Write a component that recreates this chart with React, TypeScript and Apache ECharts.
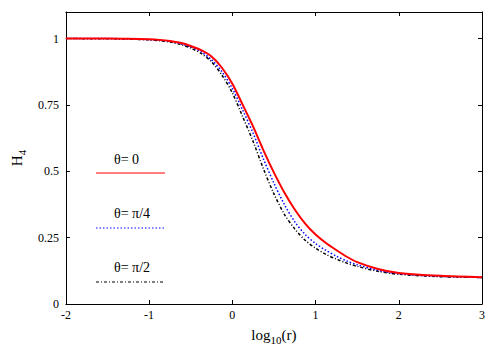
import React, { useEffect, useRef } from "react";
import * as echarts from "echarts";

const xs = [-2, -1.5, -1.25, -1, -0.875, -0.75, -0.625, -0.5, -0.375, -0.25, -0.125, 0, 0.125, 0.25, 0.375, 0.5, 0.625, 0.75, 0.875, 1, 1.125, 1.25, 1.375, 1.5, 1.75, 2, 2.5, 3];
const theta0 = [1.0, 1.0, 0.999, 0.997, 0.995, 0.991, 0.984, 0.972, 0.956, 0.932, 0.89, 0.83, 0.75, 0.668, 0.578, 0.495, 0.42, 0.356, 0.303, 0.262, 0.23, 0.203, 0.178, 0.158, 0.132, 0.117, 0.106, 0.101];
const thetaPi4 = [1.0, 1.0, 0.999, 0.996, 0.994, 0.989, 0.981, 0.968, 0.95, 0.92, 0.875, 0.812, 0.73, 0.643, 0.545, 0.455, 0.375, 0.31, 0.262, 0.228, 0.202, 0.18, 0.162, 0.148, 0.127, 0.114, 0.104, 0.1];
const thetaPi2 = [1.0, 0.999, 0.998, 0.995, 0.992, 0.987, 0.978, 0.964, 0.944, 0.912, 0.862, 0.795, 0.705, 0.612, 0.508, 0.415, 0.338, 0.283, 0.24, 0.21, 0.187, 0.169, 0.154, 0.142, 0.123, 0.112, 0.103, 0.1];
const legendLabels = ["θ= 0", "θ= π/4", "θ= π/2"];
const xTicks = [-2, -1, 0, 1, 2, 3];
const yTicks = [0, 0.25, 0.5, 0.75, 1];

const FONT = "'Liberation Serif', serif";

export default function App() {
  const ref = useRef<HTMLDivElement>(null);
  useEffect(() => {
    if (!ref.current) return;
    const chart = echarts.init(ref.current, null, { renderer: "svg" });
    const pairs = (ys: number[]) => xs.map((x, i) => [x, ys[i]]);
    const axisCommon = {
      axisLine: { show: true, onZero: false, lineStyle: { color: "#000", width: 1 } },
      axisTick: { show: true, inside: true, length: 4, lineStyle: { color: "#000" } },
      splitLine: { show: false },
    };
    const styles = [
      { color: "#ff0000", width: 2, type: "solid" as any },
      { color: "#0000ff", width: 1.5, type: [1.5, 2] as any },
      { color: "#000000", width: 1.5, type: [3, 2, 1, 2] as any },
    ];
    const legendY = [160, 214, 268];
    const lineY = [173, 228, 282];
    const graphics: any[] = [];
    legendLabels.forEach((t, i) => {
      graphics.push({
        type: "text",
        left: 114,
        top: legendY[i] - 8,
        style: { text: t, font: `14px ${FONT}`, fill: "#000" },
      });
      graphics.push({
        type: "line",
        shape: { x1: 96, y1: lineY[i], x2: 165, y2: lineY[i] },
        style: { stroke: styles[i].color, lineWidth: i === 0 ? 1 : 1.2, lineDash: i === 0 ? null : styles[i].type },
      });
    });
    const rich = {
      a: { fontSize: 15, fontFamily: FONT, color: "#000", lineHeight: 20, verticalAlign: "middle" },
      b: { fontSize: 11, fontFamily: FONT, color: "#000", lineHeight: 20, verticalAlign: "bottom", padding: [8, 0, 0, 0] },
    };
    chart.setOption({
      animation: false,
      backgroundColor: "#fff",
      textStyle: { fontFamily: FONT },
      grid: { left: 53, right: 18, top: 12, bottom: 41 },
      xAxis: [
        {
          type: "value",
          min: xTicks[0],
          max: xTicks[xTicks.length - 1],
          interval: 1,
          position: "bottom",
          ...axisCommon,
          axisLabel: { color: "#000", fontSize: 12, fontFamily: FONT, margin: 5 },
          name: "{a|log}{b|10}{a|(r)}",
          nameLocation: "middle",
          nameGap: 21,
          nameTextStyle: { rich },
        },
        {
          type: "value",
          min: -2,
          max: 3,
          interval: 1,
          position: "top",
          ...axisCommon,
          axisLabel: { show: false },
        },
      ],
      yAxis: [
        {
          type: "value",
          min: 0,
          max: 1.1,
          interval: 0.25,
          position: "left",
          ...axisCommon,
          axisLabel: {
            color: "#000",
            fontSize: 12,
            fontFamily: FONT,
            margin: 7,
            formatter: (v: number) => (yTicks.some((t) => Math.abs(t - v) < 1e-6) ? String(v) : ""),
          },
          name: "{a|H}{b|4}",
          nameLocation: "middle",
          nameGap: 37,
          nameTextStyle: { rich },
        },
        {
          type: "value",
          min: 0,
          max: 1.1,
          interval: 0.25,
          position: "right",
          ...axisCommon,
          axisLabel: { show: false },
        },
      ],
      series: [
        { name: legendLabels[0], type: "line", data: pairs(theta0), showSymbol: false, smooth: 0.3, lineStyle: styles[0], z: 3 },
        { name: legendLabels[1], type: "line", data: pairs(thetaPi4), showSymbol: false, smooth: 0.3, lineStyle: styles[1], z: 2 },
        { name: legendLabels[2], type: "line", data: pairs(thetaPi2), showSymbol: false, smooth: 0.3, lineStyle: styles[2], z: 1 },
      ],
      graphic: graphics,
    });
    return () => chart.dispose();
  }, []);
  return <div ref={ref} style={{ position: "absolute", left: 0, top: 0, width: 500, height: 350 }} />;
}
